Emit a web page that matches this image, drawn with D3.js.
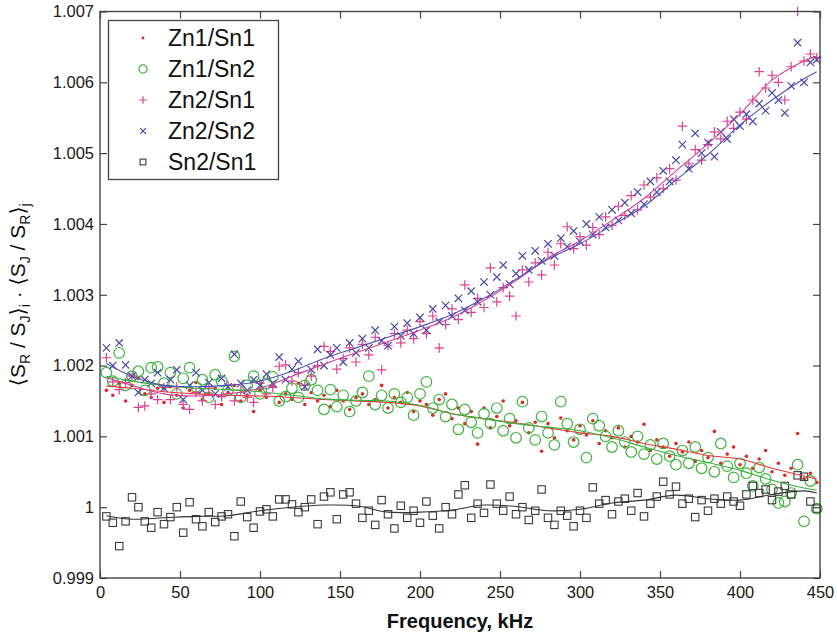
<!DOCTYPE html>
<html>
<head>
<meta charset="utf-8">
<script src="https://cdn.jsdelivr.net/npm/d3@7"></script>
<style>
    body { margin: 0; background: #fff; }
    svg { display: block; font-family: "Liberation Sans", Arial, "DejaVu Sans", sans-serif; }
    .tick-label { font-size: 16.5px; fill: #1a1a1a; }
    .legend-text { font-size: 23px; fill: #111; }
</style>
</head>
<body>
<div id="chart"></div>
<script>
// measurement frequencies, kHz
const freqs = [4, 8, 12, 16, 20, 24, 28, 32, 36, 40, 44, 48, 52, 56, 60, 64, 68, 72, 76, 80,
    84, 88, 92, 96, 100, 104, 108, 112, 116, 120, 124, 128, 132, 136, 140, 144, 148, 152, 156, 160,
    164, 168, 172, 176, 180, 184, 188, 192, 196, 200, 204, 208, 212, 216, 220, 224, 228, 232, 236, 240,
    244, 248, 252, 256, 260, 264, 268, 272, 276, 280, 284, 288, 292, 296, 300, 304, 308, 312, 316, 320,
    324, 328, 332, 336, 340, 344, 348, 352, 356, 360, 364, 368, 372, 376, 380, 384, 388, 392, 396, 400,
    404, 408, 412, 416, 420, 424, 428, 432, 436, 440, 444, 448];

const zn1sn1 = [1.00165, 1.00158, 1.00175, 1.00150, 1.00172, 1.00182, 1.00160, 1.00155, 1.00168, 1.00148,
    1.00170, 1.00158, 1.00140, 1.00165, 1.00176, 1.00152, 1.00160, 1.00168, 1.00145, 1.00162,
    1.00172, 1.00150, 1.00158, 1.00135, 1.00165, 1.00155, 1.00170, 1.00148, 1.00160, 1.00152,
    1.00175, 1.00145, 1.00162, 1.00150, 1.00158, 1.00142, 1.00165, 1.00150, 1.00138, 1.00155,
    1.00160, 1.00145, 1.00152, 1.00172, 1.00140, 1.00155, 1.00148, 1.00162, 1.00135, 1.00150,
    1.00145, 1.00130, 1.00152, 1.00160, 1.00125, 1.00140, 1.00118, 1.00135, 1.00089, 1.00140,
    1.00112, 1.00128, 1.00150, 1.00115, 1.00122, 1.00148, 1.00105, 1.00120, 1.00079, 1.00118,
    1.00098, 1.00126, 1.00108, 1.00095, 1.00115, 1.00102, 1.00122, 1.00090, 1.00108, 1.00098,
    1.00112, 1.00085, 1.00100, 1.00092, 1.00117, 1.00080, 1.00095, 1.00085, 1.00072, 1.00090,
    1.00078, 1.00092, 1.00065, 1.00080, 1.00070, 1.00107, 1.00062, 1.00075, 1.00085, 1.00060,
    1.00072, 1.00055, 1.00068, 1.00080, 1.00050, 1.00062, 1.00045, 1.00055, 1.00104, 1.00040,
    1.00048, 1.00035];

const zn1sn2 = [1.00190, 1.00178, 1.00218, 1.00172, 1.00185, 1.00192, 1.00165, 1.00197, 1.00198, 1.00175,
    1.00190, 1.00160, 1.00182, 1.00197, 1.00170, 1.00180, 1.00155, 1.00187, 1.00178, 1.00165,
    1.00213, 1.00155, 1.00172, 1.00185, 1.00160, 1.00175, 1.00184, 1.00150, 1.00156, 1.00168,
    1.00155, 1.00172, 1.00180, 1.00165, 1.00138, 1.00166, 1.00142, 1.00158, 1.00135, 1.00150,
    1.00162, 1.00185, 1.00145, 1.00158, 1.00140, 1.00160, 1.00148, 1.00155, 1.00130, 1.00160,
    1.00177, 1.00140, 1.00152, 1.00128, 1.00145, 1.00110, 1.00138, 1.00120, 1.00105, 1.00132,
    1.00118, 1.00140, 1.00108, 1.00125, 1.00098, 1.00149, 1.00112, 1.00095, 1.00128, 1.00105,
    1.00088, 1.00149, 1.00118, 1.00092, 1.00110, 1.00070, 1.00125, 1.00115, 1.00100, 1.00085,
    1.00108, 1.00092, 1.00078, 1.00100, 1.00075, 1.00088, 1.00068, 1.00090, 1.00072, 1.00060,
    1.00080, 1.00062, 1.00085, 1.00055, 1.00070, 1.00050, 1.00090, 1.00058, 1.00042, 1.00062,
    1.00048, 1.00030, 1.00056, 1.00040, 1.00025, 1.00006, 1.00008, 1.00020, 1.00060, 0.99980,
    1.00037, 0.99998];

const zn2sn1 = [1.00211, 1.00177, 1.00166, 1.00176, 1.00185, 1.00141, 1.00143, 1.00160, 1.00152, 1.00169,
    1.00152, 1.00170, 1.00145, 1.00138, 1.00162, 1.00150, 1.00168, 1.00145, 1.00156, 1.00172,
    1.00150, 1.00165, 1.00155, 1.00148, 1.00175, 1.00160, 1.00169, 1.00199, 1.00201, 1.00178,
    1.00190, 1.00172, 1.00185, 1.00200, 1.00227, 1.00220, 1.00195, 1.00210, 1.00225, 1.00205,
    1.00230, 1.00215, 1.00240, 1.00194, 1.00228, 1.00245, 1.00232, 1.00250, 1.00238, 1.00262,
    1.00245, 1.00270, 1.00225, 1.00258, 1.00280, 1.00265, 1.00314, 1.00275, 1.00295, 1.00282,
    1.00338, 1.00290, 1.00310, 1.00298, 1.00270, 1.00335, 1.00318, 1.00345, 1.00328, 1.00360,
    1.00342, 1.00372, 1.00396, 1.00365, 1.00382, 1.00370, 1.00395, 1.00385, 1.00410, 1.00398,
    1.00425, 1.00412, 1.00440, 1.00420, 1.00455, 1.00438, 1.00465, 1.00450, 1.00478, 1.00462,
    1.00538, 1.00485, 1.00505, 1.00490, 1.00512, 1.00530, 1.00520, 1.00545, 1.00535, 1.00558,
    1.00548, 1.00575, 1.00615, 1.00592, 1.00610, 1.00600, 1.00575, 1.00622, 1.00700, 1.00630,
    1.00640, 1.00635];

const zn2sn2 = [1.00225, 1.00200, 1.00232, 1.00201, 1.00185, 1.00162, 1.00180, 1.00175, 1.00190, 1.00168,
    1.00180, 1.00194, 1.00152, 1.00172, 1.00190, 1.00165, 1.00176, 1.00160, 1.00182, 1.00170,
    1.00216, 1.00175, 1.00165, 1.00180, 1.00172, 1.00188, 1.00175, 1.00212, 1.00180, 1.00195,
    1.00206, 1.00170, 1.00194, 1.00223, 1.00200, 1.00215, 1.00225, 1.00205, 1.00232, 1.00218,
    1.00238, 1.00225, 1.00250, 1.00235, 1.00228, 1.00255, 1.00242, 1.00260, 1.00245, 1.00268,
    1.00250, 1.00280, 1.00262, 1.00285, 1.00270, 1.00295, 1.00278, 1.00305, 1.00290, 1.00318,
    1.00300, 1.00325, 1.00342, 1.00315, 1.00330, 1.00355, 1.00335, 1.00362, 1.00348, 1.00372,
    1.00355, 1.00380, 1.00368, 1.00390, 1.00375, 1.00400, 1.00385, 1.00410, 1.00395, 1.00420,
    1.00405, 1.00430, 1.00415, 1.00445, 1.00428, 1.00460, 1.00445, 1.00475, 1.00460, 1.00490,
    1.00512, 1.00478, 1.00528, 1.00500, 1.00515, 1.00495, 1.00530, 1.00520, 1.00548, 1.00538,
    1.00555, 1.00545, 1.00570, 1.00560, 1.00585, 1.00575, 1.00557, 1.00595, 1.00656, 1.00600,
    1.00628, 1.00632];

const sn2sn1 = [0.99987, 0.99978, 0.99945, 0.99980, 1.00014, 1.00000, 0.99980, 0.99971, 0.99993, 0.99976,
    0.99986, 1.00000, 0.99964, 1.00007, 0.99983, 0.99973, 0.99993, 0.99979, 0.99987, 0.99990,
    0.99959, 1.00008, 0.99986, 0.99971, 0.99994, 0.99997, 0.99987, 1.00011, 1.00011, 1.00004,
    0.99993, 1.00000, 1.00011, 0.99976, 1.00015, 1.00021, 0.99983, 1.00018, 1.00021, 1.00005,
    0.99985, 0.99995, 0.99975, 1.00010, 0.99990, 0.99970, 1.00002, 0.99985, 0.99995, 0.99978,
    1.00008, 0.99988, 0.99970, 1.00000, 0.99990, 1.00018, 1.00031, 0.99985, 1.00005, 0.99992,
    1.00032, 1.00005, 0.99995, 1.00015, 0.99990, 1.00000, 0.99982, 0.99995, 1.00025, 0.99985,
    0.99975, 0.99995, 0.99988, 0.99973, 0.99995, 0.99985, 1.00028, 1.00005, 1.00010, 0.99990,
    1.00008, 1.00012, 0.99995, 1.00020, 0.99987, 1.00005, 1.00015, 1.00036, 1.00018, 1.00029,
    1.00005, 1.00012, 0.99986, 1.00010, 0.99995, 1.00012, 1.00005, 1.00015, 1.00008, 1.00002,
    1.00018, 1.00030, 1.00020, 1.00025, 1.00010, 1.00022, 1.00030, 1.00018, 1.00045, 1.00043,
    1.00008, 0.99998];

// smoothed curves
const trendKHz = [4, 20, 40, 60, 80, 100, 120, 140, 160, 180, 200, 220, 240, 260, 280, 300, 320, 340, 360, 380, 400, 420, 440, 448];
const zn1sn1Trend = [1.00171, 1.00168, 1.00163, 1.00160, 1.00158, 1.00157, 1.00155, 1.00152, 1.00150, 1.00148, 1.00143, 1.00132,
    1.00125, 1.00119, 1.00112, 1.00105, 1.00100, 1.00090, 1.00082, 1.00073, 1.00068, 1.00055, 1.00044, 1.00040];
const zn1sn2Trend = [1.00185, 1.00178, 1.00172, 1.00168, 1.00166, 1.00163, 1.00158, 1.00153, 1.00151, 1.00150, 1.00144, 1.00132,
    1.00125, 1.00118, 1.00113, 1.00108, 1.00098, 1.00085, 1.00073, 1.00063, 1.00052, 1.00038, 1.00027, 1.00024];
const zn2sn1Trend = [1.00183, 1.00172, 1.00160, 1.00157, 1.00160, 1.00168, 1.00185, 1.00202, 1.00218, 1.00234, 1.00250, 1.00268,
    1.00292, 1.00320, 1.00352, 1.00376, 1.00405, 1.00436, 1.00475, 1.00513, 1.00555, 1.00603, 1.00630, 1.00637];
const zn2sn2Trend = [1.00203, 1.00185, 1.00172, 1.00170, 1.00172, 1.00178, 1.00192, 1.00210, 1.00225, 1.00240, 1.00255, 1.00272,
    1.00295, 1.00322, 1.00350, 1.00372, 1.00398, 1.00425, 1.00462, 1.00498, 1.00540, 1.00575, 1.00605, 1.00615];
const sn2sn1Trend = [0.99988, 0.99983, 0.99985, 0.99987, 0.99988, 0.99995, 1.00000, 1.00003, 1.00002, 0.99993, 0.99993, 0.99996,
    1.00003, 1.00001, 0.99995, 0.99997, 1.00006, 1.00010, 1.00017, 1.00012, 1.00010, 1.00018, 1.00023, 1.00020];

const seriesNames = ["Zn1/Sn1", "Zn1/Sn2", "Zn2/Sn1", "Zn2/Sn2", "Sn2/Sn1"];
const xTicks = [0, 50, 100, 150, 200, 250, 300, 350, 400, 450];
const yTicks = [0.999, 1.000, 1.001, 1.002, 1.003, 1.004, 1.005, 1.006, 1.007];

const SERIES = [
    { name: seriesNames[0], values: zn1sn1, trend: zn1sn1Trend, marker: "dot", color: "#e02828", line: "#e23a3a" },
    { name: seriesNames[1], values: zn1sn2, trend: zn1sn2Trend, marker: "circle", color: "#3db43d", line: "#3aae3a" },
    { name: seriesNames[2], values: zn2sn1, trend: zn2sn1Trend, marker: "plus", color: "#e0408e", line: "#d6409a" },
    { name: seriesNames[3], values: zn2sn2, trend: zn2sn2Trend, marker: "cross", color: "#4848a8", line: "#5252b4" },
    { name: seriesNames[4], values: sn2sn1, trend: sn2sn1Trend, marker: "square", color: "#3a3a3a", line: "#333333" },
];

const width = 837;
const height = 633;
const margin = { top: 11.5, right: 17, bottom: 55, left: 100 };
const innerW = width - margin.left - margin.right;
const innerH = height - margin.top - margin.bottom;

const svg = d3.select("#chart").append("svg")
    .attr("width", width)
    .attr("height", height);

const g = svg.append("g").attr("transform", `translate(${margin.left},${margin.top})`);

const x = d3.scaleLinear().domain([0, 450]).range([0, innerW]);
const y = d3.scaleLinear().domain([0.999, 1.007]).range([innerH, 0]);

function drawMarker(sel, type, color, s) {
    if (type === "dot") {
        sel.append("circle").attr("r", 1.8 * s).attr("fill", color);
    } else if (type === "circle") {
        sel.append("circle").attr("r", 5.3 * s).attr("fill", "none").attr("stroke", color).attr("stroke-width", 1.2);
    } else if (type === "plus") {
        const a = 4.8 * s;
        sel.append("path").attr("d", `M${-a},0H${a}M0,${-a}V${a}`).attr("stroke", color).attr("stroke-width", 1.2);
    } else if (type === "cross") {
        const a = 3.7 * s;
        sel.append("path").attr("d", `M${-a},${-a}L${a},${a}M${-a},${a}L${a},${-a}`).attr("stroke", color).attr("stroke-width", 1.2);
    } else if (type === "square") {
        const a = 3.7 * s;
        sel.append("rect").attr("x", -a).attr("y", -a).attr("width", 2 * a).attr("height", 2 * a)
            .attr("fill", "none").attr("stroke", color).attr("stroke-width", 1.1);
    }
}

// scatter markers
SERIES.forEach((s) => {
    const pts = g.append("g").selectAll("g")
        .data(freqs.map((f, i) => ({ f, v: s.values[i] })))
        .enter()
        .append("g")
        .attr("transform", (d) => `translate(${x(d.f)},${y(d.v)})`);
    pts.each(function () { drawMarker(d3.select(this), s.marker, s.color, 1); });
});

// smoothed lines
const line = d3.line()
    .x((d) => x(d.f))
    .y((d) => y(d.v))
    .curve(d3.curveCatmullRom.alpha(0.5));

SERIES.forEach((s) => {
    g.append("path")
        .datum(trendKHz.map((f, i) => ({ f, v: s.trend[i] })))
        .attr("fill", "none")
        .attr("stroke", s.line)
        .attr("stroke-width", 1.1)
        .attr("d", line);
});

// axes, ticks pointing inward on all four sides
const fmtY = (d) => d3.format(".3~f")(d);

const axL = g.append("g").call(d3.axisLeft(y).tickValues(yTicks).tickSize(-7).tickPadding(6).tickFormat(fmtY));
const axR = g.append("g").attr("transform", `translate(${innerW},0)`)
    .call(d3.axisRight(y).tickValues(yTicks).tickSize(-7).tickFormat(""));
const axB = g.append("g").attr("transform", `translate(0,${innerH})`)
    .call(d3.axisBottom(x).tickValues(xTicks).tickSize(-7).tickPadding(8).tickFormat(d3.format("d")));
const axT = g.append("g")
    .call(d3.axisTop(x).tickValues(xTicks).tickSize(-7).tickFormat(""));

[axL, axR, axB, axT].forEach((a) => {
    a.select(".domain").remove();
    a.selectAll(".tick line").attr("stroke", "#444").attr("stroke-width", 1.2);
    a.selectAll(".tick text").attr("class", "tick-label").attr("font-family", null).attr("font-size", null);
});

g.append("rect")
    .attr("width", innerW)
    .attr("height", innerH)
    .attr("fill", "none")
    .attr("stroke", "#444")
    .attr("stroke-width", 1.4);

// axis titles
svg.append("text")
    .attr("x", margin.left + innerW / 2)
    .attr("y", 628)
    .attr("text-anchor", "middle")
    .attr("font-size", 20)
    .attr("font-weight", "bold")
    .attr("fill", "#111")
    .text("Frequency, kHz");

const yl = svg.append("text")
    .attr("transform", `translate(25,${margin.top + innerH / 2}) rotate(-90)`)
    .attr("text-anchor", "middle")
    .attr("font-size", 21)
    .attr("fill", "#111");

const labelParts = [
    ["\u27E8S", false], ["R", true], [" / S", false], ["J", true], ["\u27E9", false], ["i", true],
    [" \u00B7 \u27E8S", false], ["J", true], [" / S", false], ["R", true], ["\u27E9", false], ["j", true],
];
labelParts.forEach(([t, sub]) => {
    yl.append("tspan")
        .attr("font-size", sub ? 14 : 21)
        .attr("dy", sub ? 5 : -5)
        .text(t);
});
yl.select("tspan").attr("dy", 0);

// legend
const legend = svg.append("g");
legend.append("rect")
    .attr("x", 108.5)
    .attr("y", 20.5)
    .attr("width", 170)
    .attr("height", 159)
    .attr("fill", "#fff")
    .attr("stroke", "#444")
    .attr("stroke-width", 1.3);

SERIES.forEach((s, i) => {
    const yy = 38 + i * 31;
    const mk = legend.append("g").attr("transform", `translate(143,${yy})`);
    drawMarker(mk, s.marker, s.color, 0.78);
    legend.append("text")
        .attr("class", "legend-text")
        .attr("x", 168)
        .attr("y", yy)
        .attr("dy", "0.36em")
        .text(s.name);
});
</script>
</body>
</html>
